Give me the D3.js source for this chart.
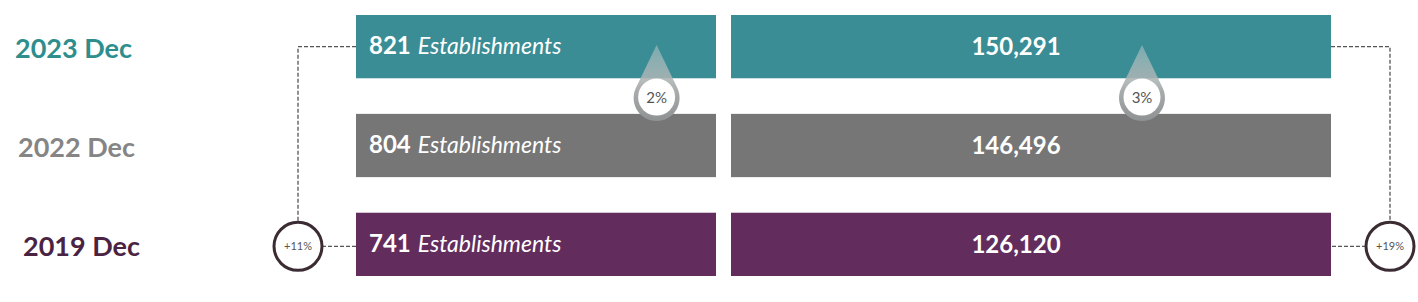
<!DOCTYPE html>
<html>
<head>
<meta charset="utf-8">
<script src="https://cdn.jsdelivr.net/npm/d3@7"></script>
<style>
  html, body { margin: 0; padding: 0; background: #fff; }
  svg { display: block; font-family: Lato, "Open Sans", sans-serif; }
</style>
</head>
<body>
<div id="chart"></div>
<script>
// data
const periods = ["2023 Dec", "2022 Dec", "2019 Dec"];
const establishments = [821, 804, 741];
const workers = [150291, 146496, 126120];
const yoyGrowth = ["2%", "3%"];          // 2022 -> 2023
const longGrowth = ["+11%", "+19%"];     // 2019 -> 2023
const periodColors = ["#3a8d95", "#767677", "#622d5d"];
const labelColors = ["#2e8e8e", "#858585", "#4a2343"];

const width = 1418, height = 302;

const svg = d3.select("#chart").append("svg")
    .attr("width", width)
    .attr("height", height);

// rows
const y = d3.scaleBand()
    .domain(periods)
    .range([15, 276])
    .paddingInner(0.36)
    .paddingOuter(0);

// two columns of equal bars
const cols = [
  {key: "est", x0: 356, x1: 716, values: establishments, drop: 0.835},
  {key: "wrk", x0: 731, x1: 1331, values: workers, drop: 0.685}
];

const fmt = d3.format(",");

// dashed connectors (drawn first, under bars)
const dash = "4,2";
const circR = 24;
const lc = {x: 298, y: y(periods[2]) + y.bandwidth() / 2 + 2};
const rc = {x: 1390, y: y(periods[2]) + y.bandwidth() / 2 + 2};
const topY = y(periods[0]) + y.bandwidth() / 2;

svg.append("path")
    .attr("d", `M${cols[0].x0},${topY}H${lc.x}V${lc.y - circR}M${lc.x + circR},${lc.y}H${cols[0].x0}`)
    .attr("fill", "none").attr("stroke", "#555").attr("stroke-width", 1.3)
    .attr("stroke-dasharray", dash);
svg.append("path")
    .attr("d", `M${cols[1].x1},${topY}H${rc.x}V${rc.y - circR}M${rc.x - circR},${rc.y}H${cols[1].x1}`)
    .attr("fill", "none").attr("stroke", "#555").attr("stroke-width", 1.3)
    .attr("stroke-dasharray", dash);

// period labels
svg.selectAll(".period")
    .data(periods)
    .enter().append("text")
    .attr("class", "period")
    .attr("x", (d, i) => [15, 18, 23][i])
    .attr("y", (d, i) => y(d) + y.bandwidth() / 2 + 2)
    .attr("dy", "0.35em")
    .attr("fill", (d, i) => labelColors[i])
    .attr("font-size", "27px")
    .attr("font-weight", 700)
    .text(d => d);

// bars
cols.forEach(c => {
  svg.selectAll(".bar-" + c.key)
      .data(periods)
      .enter().append("rect")
      .attr("class", "bar-" + c.key)
      .attr("x", c.x0)
      .attr("y", d => y(d))
      .attr("width", c.x1 - c.x0)
      .attr("height", y.bandwidth())
      .attr("fill", (d, i) => periodColors[i]);
});

// establishment labels
const estText = svg.selectAll(".est-label")
    .data(periods)
    .enter().append("text")
    .attr("class", "est-label")
    .attr("x", cols[0].x0 + 13)
    .attr("y", d => y(d) + y.bandwidth() / 2 + 2)
    .attr("dy", "0.35em")
    .attr("fill", "#fff");
estText.append("tspan")
    .attr("font-size", "24px").attr("font-weight", 700)
    .text((d, i) => establishments[i]);
estText.append("tspan")
    .attr("font-size", "23px").attr("font-style", "italic")
    .attr("dx", 7)
    .text("Establishments");

// worker labels
svg.selectAll(".wrk-label")
    .data(periods)
    .enter().append("text")
    .attr("class", "wrk-label")
    .attr("x", (cols[1].x0 + cols[1].x1) / 2 - 15)
    .attr("y", d => y(d) + y.bandwidth() / 2)
    .attr("dy", "0.35em")
    .attr("text-anchor", "middle")
    .attr("fill", "#fff")
    .attr("font-size", "24px").attr("font-weight", 700)
    .text((d, i) => fmt(workers[i]));

// droplet badges between 2023 and 2022
const defs = svg.append("defs");
const grad = defs.append("linearGradient")
    .attr("id", "dropGrad").attr("x1", 0).attr("y1", 0).attr("x2", 0).attr("y2", 1);
grad.append("stop").attr("offset", "0%").attr("stop-color", "#b9c9c9").attr("stop-opacity", 0.5);
grad.append("stop").attr("offset", "60%").attr("stop-color", "#a9acad");
grad.append("stop").attr("offset", "100%").attr("stop-color", "#8f9293");

const gapMid = (y(periods[0]) + y.bandwidth() + y(periods[1])) / 2 + 2;
cols.forEach((c, i) => {
  const cx = c.x0 + (c.x1 - c.x0) * c.drop;
  const cy = gapMid;
  const R = 23, tip = y(periods[0]) + 30;
  const g = svg.append("g");
  const a = Math.asin(R / (cy - tip));
  const tx = R * Math.cos(a), ty = R * Math.sin(a);
  g.append("path")
      .attr("d", `M${cx},${tip}L${cx + tx},${cy - ty}A${R},${R} 0 1 1 ${cx - tx},${cy - ty}Z`)
      .attr("fill", "url(#dropGrad)");
  g.append("circle")
      .attr("cx", cx).attr("cy", cy - 1).attr("r", 18.5)
      .attr("fill", "#fff");
  g.append("text")
      .attr("x", cx).attr("y", cy)
      .attr("dy", "0.35em")
      .attr("text-anchor", "middle")
      .attr("fill", "#555")
      .attr("font-size", "15px")
      .text(yoyGrowth[i]);
});

// long-run growth circles
[lc, rc].forEach((p, i) => {
  svg.append("circle")
      .attr("cx", p.x).attr("cy", p.y).attr("r", circR)
      .attr("fill", "#fff").attr("stroke", "#3b2c33").attr("stroke-width", 3);
  svg.append("text")
      .attr("x", p.x).attr("y", p.y)
      .attr("dy", "0.35em")
      .attr("text-anchor", "middle")
      .attr("fill", "#555")
      .attr("font-size", "11px")
      .text(longGrowth[i]);
});
</script>
</body>
</html>
